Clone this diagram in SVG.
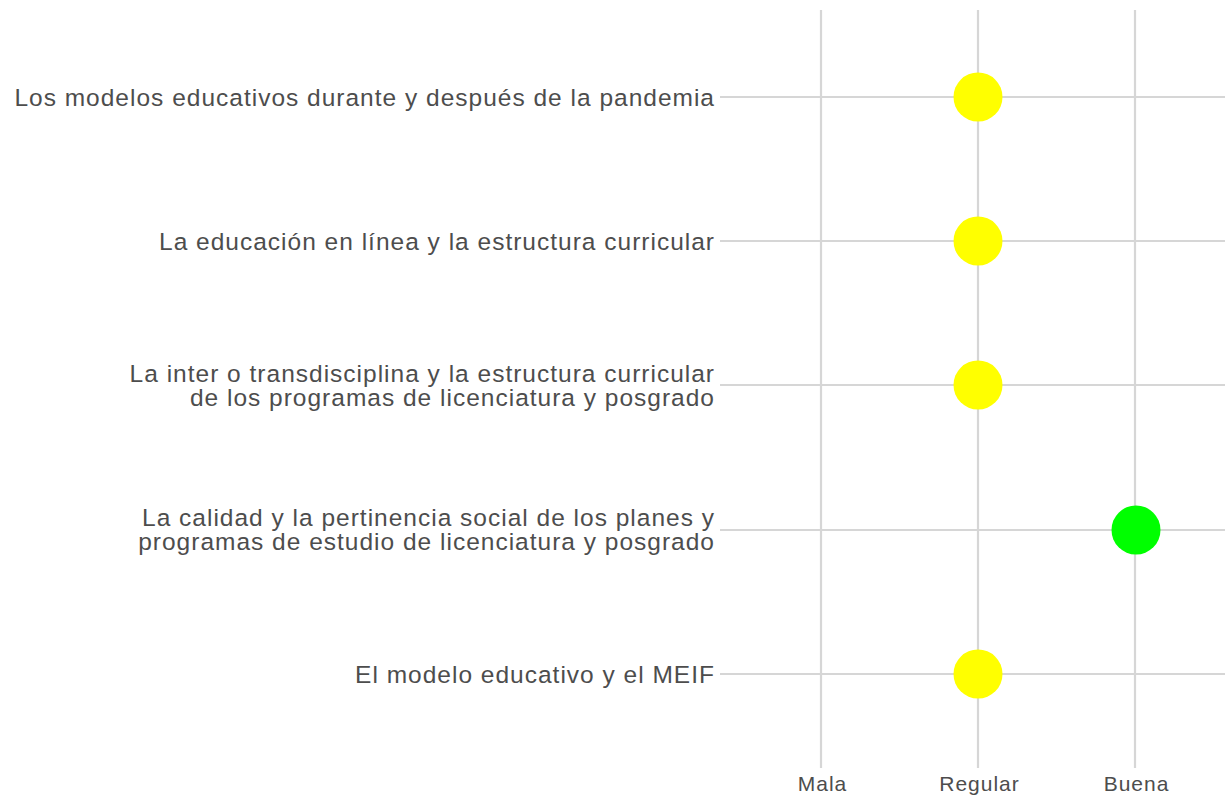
<svg xmlns="http://www.w3.org/2000/svg" width="1225" height="795" viewBox="0 0 1225 795">
<style>
.g{stroke:#d6d6d6;stroke-width:2.2;fill:none}
.t{font-family:"Liberation Sans",Arial,sans-serif;font-size:24.5px;letter-spacing:1px;fill:#4d4d4d}
.k{font-size:21px}
.r{text-anchor:end}
.x{text-anchor:middle}
</style>
<rect width="1225" height="795" fill="#fff"/>
<g id="grid">
<path class="g" d="M821 10V768M978 10V768M1135 10V768M720 97H1225M720 241H1225M720 385H1225M720 530H1225M720 674H1225"/>
</g>
<g id="labels">
<text class="t r" x="715" y="106">Los modelos educativos durante y después de la pandemia</text>
<text class="t r" x="715" y="250">La educación en línea y la estructura curricular</text>
<text class="t r" x="715" y="382">La inter o transdisciplina y la estructura curricular</text>
<text class="t r" x="715" y="406">de los programas de licenciatura y posgrado</text>
<text class="t r" x="715" y="526">La calidad y la pertinencia social de los planes y</text>
<text class="t r" x="715" y="550">programas de estudio de licenciatura y posgrado</text>
<text class="t r" x="715" y="683">El modelo educativo y el MEIF</text>
<text class="t k x" x="822.5" y="791">Mala</text>
<text class="t k x" x="979.5" y="791">Regular</text>
<text class="t k x" x="1136.5" y="791">Buena</text>
</g>
<g id="points">
<circle cx="978" cy="97" r="24.5" fill="#ffff00"/>
<circle cx="978" cy="241" r="24.5" fill="#ffff00"/>
<circle cx="978" cy="385" r="24.5" fill="#ffff00"/>
<circle cx="1136" cy="530" r="24.5" fill="#00ff00"/>
<circle cx="978" cy="674" r="24.5" fill="#ffff00"/>
</g>
</svg>
